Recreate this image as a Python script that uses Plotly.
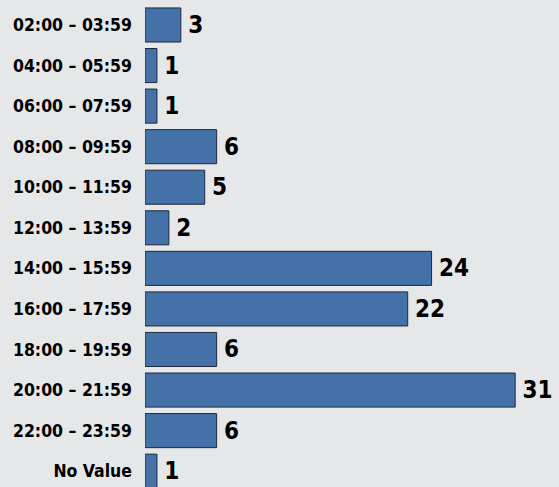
import plotly.graph_objects as go

categories = ["02:00 – 03:59", "04:00 – 05:59", "06:00 – 07:59", "08:00 – 09:59",
              "10:00 – 11:59", "12:00 – 13:59", "14:00 – 15:59", "16:00 – 17:59",
              "18:00 – 19:59", "20:00 – 21:59", "22:00 – 23:59", "No Value"]
values = [3, 1, 1, 6, 5, 2, 24, 22, 6, 31, 6, 1]

FONT = "DejaVu Sans Condensed"
BG = "#e6e7e9"

fig = go.Figure(go.Bar(
    y=categories, x=values, orientation="h",
    marker=dict(color="#4471a8", line=dict(color="#1c2a3c", width=1)),
    width=0.84,
    text=["\u2009" + str(v) for v in values], textposition="outside",
    textfont=dict(family=FONT, size=24, color="#000000", weight="bold"),
    cliponaxis=False, hoverinfo="skip",
))
fig.update_layout(
    width=559, height=487,
    margin=dict(l=145, r=0, t=0, b=0, autoexpand=False),
    paper_bgcolor=BG, plot_bgcolor=BG,
    showlegend=False,
    xaxis=dict(range=[0, 34.67], visible=False, automargin=False),
    yaxis=dict(autorange=False, range=[11.39, -0.616], showgrid=False, zeroline=False,
               showline=False, ticks="", ticklabelstandoff=12, automargin=False,
               tickfont=dict(family=FONT, size=17.5, color="#000000", weight="bold")),
)
fig.write_html("out.html", config={"displayModeBar": False},
               post_script="document.body.style.margin='0';document.body.style.background='" + BG + "';")
